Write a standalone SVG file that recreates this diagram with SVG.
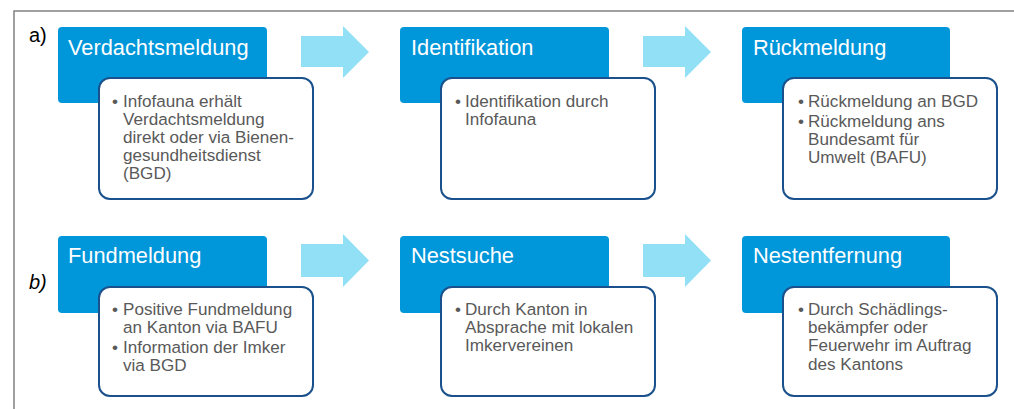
<svg xmlns="http://www.w3.org/2000/svg" width="1014" height="409" viewBox="0 0 1014 409">
<style>
.frame{fill:none;stroke:#808080;stroke-width:1.5}
.head{fill:#0096DA}
.card{fill:#fff;stroke:#1A518C;stroke-width:2}
.arrow{fill:#92E0F6}
.title{font-family:"Liberation Sans",Arial,sans-serif;font-size:21.8px;fill:#fff}
.body{font-family:"Liberation Sans",Arial,sans-serif;font-size:17.1px;fill:#595959}
.lbl{font-family:"Liberation Sans",Arial,sans-serif;font-size:20px;fill:#000}
</style>
<rect width="1014" height="409" fill="#fff"/>
<path class="frame" d="M14,409 V11 H1014"/>
<text class="lbl" x="29" y="42">a)</text>
<text class="lbl" x="29" y="289" font-style="italic">b)</text>
<g id="connectors">
<path class="arrow" d="M301,36 H343 V26 L369,52 L343,78 V67 H301 Z"/>
<path class="arrow" d="M643,36 H685 V26 L711,52 L685,78 V67 H643 Z"/>
<path class="arrow" d="M301,244 H343 V234 L369,260.5 L343,287 V277 H301 Z"/>
<path class="arrow" d="M643,244 H685 V234 L711,260.5 L685,287 V277 H643 Z"/>
</g>
<g id="verdachtsmeldung">
<rect class="head" x="58" y="27" width="209" height="76" rx="4"/>
<text class="title" x="68" y="55">Verdachtsmeldung</text>
<rect class="card" x="99" y="78" width="214" height="121" rx="11"/>
<text class="body"><tspan x="112" y="106.5">•</tspan><tspan x="123" y="106.5">Infofauna erhält</tspan><tspan x="123" y="124.7">Verdachtsmeldung</tspan><tspan x="123" y="142.9">direkt oder via Bienen-</tspan><tspan x="123" y="161.1">gesundheitsdienst</tspan><tspan x="123" y="179.3">(BGD)</tspan></text>
</g>
<g id="identifikation">
<rect class="head" x="400" y="27" width="209" height="76" rx="4"/>
<text class="title" x="411" y="55">Identifikation</text>
<rect class="card" x="441" y="78" width="214" height="121" rx="11"/>
<text class="body"><tspan x="455" y="106.5">•</tspan><tspan x="465" y="106.5">Identifikation durch</tspan><tspan x="465" y="124.7">Infofauna</tspan></text>
</g>
<g id="rueckmeldung">
<rect class="head" x="742" y="27" width="208" height="76" rx="4"/>
<text class="title" x="753" y="55">Rückmeldung</text>
<rect class="card" x="783" y="78" width="214" height="121" rx="11"/>
<text class="body"><tspan x="798" y="106.5">•</tspan><tspan x="808" y="106.5">Rückmeldung an BGD</tspan><tspan x="798" y="126.5">•</tspan><tspan x="808" y="126.5">Rückmeldung ans</tspan><tspan x="808" y="144.7">Bundesamt für</tspan><tspan x="808" y="162.9">Umwelt (BAFU)</tspan></text>
</g>
<g id="fundmeldung">
<rect class="head" x="58" y="236" width="209" height="77" rx="4"/>
<text class="title" x="68" y="263">Fundmeldung</text>
<rect class="card" x="99" y="287" width="214" height="109" rx="11"/>
<text class="body"><tspan x="112" y="315">•</tspan><tspan x="123" y="315">Positive Fundmeldung</tspan><tspan x="123" y="333.2">an Kanton via BAFU</tspan><tspan x="112" y="352.5">•</tspan><tspan x="123" y="352.5">Information der Imker</tspan><tspan x="123" y="370.7">via BGD</tspan></text>
</g>
<g id="nestsuche">
<rect class="head" x="400" y="236" width="209" height="77" rx="4"/>
<text class="title" x="411" y="263">Nestsuche</text>
<rect class="card" x="441" y="287" width="214" height="109" rx="11"/>
<text class="body"><tspan x="455" y="315">•</tspan><tspan x="465" y="315">Durch Kanton in</tspan><tspan x="465" y="333.2">Absprache mit lokalen</tspan><tspan x="465" y="351.4">Imkervereinen</tspan></text>
</g>
<g id="nestentfernung">
<rect class="head" x="742" y="236" width="208" height="77" rx="4"/>
<text class="title" x="753" y="263">Nestentfernung</text>
<rect class="card" x="783" y="287" width="214" height="109" rx="11"/>
<text class="body"><tspan x="798" y="315">•</tspan><tspan x="808" y="315">Durch Schädlings-</tspan><tspan x="808" y="333.2">bekämpfer oder</tspan><tspan x="808" y="351.4">Feuerwehr im Auftrag</tspan><tspan x="808" y="369.6">des Kantons</tspan></text>
</g>
</svg>
